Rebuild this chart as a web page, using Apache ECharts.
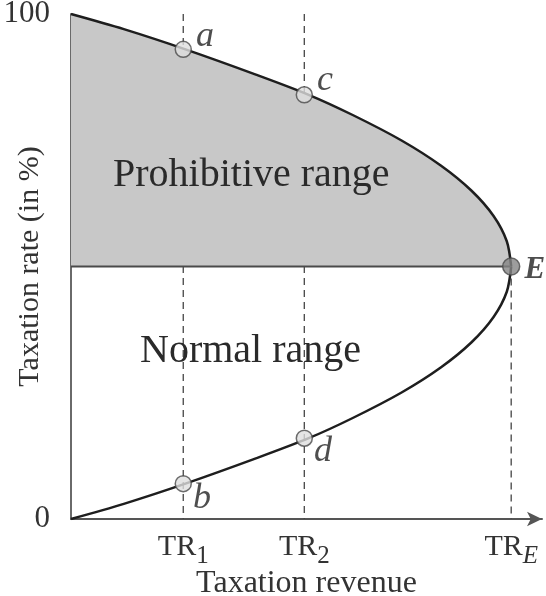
<!DOCTYPE html>
<html>
<head>
<meta charset="utf-8">
<script src="https://cdn.jsdelivr.net/npm/echarts@6/dist/echarts.min.js"></script>
<style>
html, body { margin: 0; padding: 0; background: #fff; }
#chart { width: 546px; height: 596px; }
</style>
</head>
<body>
<div id="chart"></div>
<script>
// curve: [revenue, rate], revenue scaled so that TR_E = 100
const upperCurve = [[0, 100], [12, 97], [26, 93], [42, 88], [54, 84], [64, 80], [75, 75], [84, 70], [91, 65], [96, 60], [99, 55], [100, 50]]
const lowerCurve = [[0, 0], [12, 3], [26, 7], [42, 12], [54, 16], [64, 20], [75, 25], [84, 30], [91, 35], [96, 40], [99, 45], [100, 50]]
const thresholdLine = [[0, 50], [100, 50]]

const revenueTicks = [25.5, 53, 100]
const tickMain = ['TR', 'TR', 'TR']
const tickSub = ['1', '2', 'E']

// dashed guides: x position and where they start at the top
const guideX = [25.5, 53, 100]
const guideTop = [100, 100, 50]

const pointNames = ['a', 'c', 'b', 'd', 'E']
const pointX = [25.5, 53, 25.5, 53, 100]
const pointY = [93, 84, 7, 16, 50]

const serif = "'Liberation Serif', 'DejaVu Serif', serif"

const pointLabelOffset = {
  a: [0, -13],
  c: [0, -14],
  b: [-3, 15],
  d: [-3, 13],
  E: [0, 3]
}

const chart = echarts.init(document.getElementById('chart'))

const guideSeries = guideX.map((x, i) => ({
  type: 'line',
  data: [[x, guideTop[i]], [x, 0]],
  symbol: 'none',
  silent: true,
  z: 1,
  lineStyle: { color: '#444', width: 1.3, type: [7, 5] }
}))

const pointData = pointNames.map((n, i) => {
  const isE = n === 'E'
  return {
    value: [pointX[i], pointY[i]],
    symbolSize: isE ? 17 : 16,
    itemStyle: {
      color: isE ? '#858585' : '#dedede',
      borderColor: '#4a4a4a',
      borderWidth: 1.5
    },
    label: {
      show: true,
      formatter: n,
      position: 'right',
      distance: 4,
      offset: pointLabelOffset[n],
      fontFamily: serif,
      fontStyle: 'italic',
      fontWeight: isE ? 'bold' : 'normal',
      fontSize: isE ? 31 : 36,
      color: '#222'
    }
  }
})

const option = {
  animation: false,
  backgroundColor: '#fff',
  grid: {
    left: 71,
    right: 4,
    top: 14,
    bottom: 77,
    containLabel: false,
    outerBoundsMode: 'none'
  },
  xAxis: {
    type: 'value',
    min: 0,
    max: 107,
    name: 'Taxation revenue',
    nameLocation: 'middle',
    nameGap: 49,
    nameMoveOverlap: false,
    nameTextStyle: { fontFamily: serif, fontSize: 32, color: '#333' },
    axisLine: {
      show: true,
      symbol: ['none', 'arrow'],
      symbolSize: [11, 15],
      lineStyle: { color: '#555', width: 2 }
    },
    axisTick: { show: false },
    splitLine: { show: false },
    axisLabel: {
      customValues: revenueTicks,
      margin: 7,
      color: '#333',
      fontFamily: serif,
      formatter: function (v) {
        const i = revenueTicks.indexOf(v)
        if (i < 0) return ''
        return '{m|' + tickMain[i] + '}{' + (tickSub[i] === 'E' ? 'se' : 's') + '|' + tickSub[i] + '}'
      },
      rich: {
        m: { fontFamily: serif, fontSize: 30, color: '#333' },
        s: { fontFamily: serif, fontSize: 25, color: '#333', padding: [18, 0, 0, 0] },
        se: { fontFamily: serif, fontSize: 25, fontStyle: 'italic', color: '#333', padding: [18, 0, 0, 0] }
      }
    }
  },
  yAxis: {
    type: 'value',
    min: 0,
    max: 100,
    interval: 100,
    name: 'Taxation rate (in %)',
    nameLocation: 'middle',
    nameGap: 26,
    nameMoveOverlap: false,
    nameTextStyle: { fontFamily: serif, fontSize: 30, color: '#333' },
    axisLine: { show: true, lineStyle: { color: '#6a6a6a', width: 2 } },
    axisTick: { show: false },
    splitLine: { show: false },
    axisLabel: {
      margin: 21,
      fontFamily: serif,
      fontSize: 31,
      color: '#333'
    }
  },
  series: [
    {
      name: 'prohibitive',
      type: 'line',
      data: upperCurve,
      smooth: 0.3,
      symbol: 'none',
      z: 3,
      lineStyle: { color: '#1e1e1e', width: 2.5 },
      areaStyle: { color: '#c8c8c8', opacity: 1, origin: 50 }
    },
    {
      name: 'normal',
      type: 'line',
      data: lowerCurve,
      smooth: 0.3,
      symbol: 'none',
      z: 3,
      lineStyle: { color: '#1e1e1e', width: 2.5 }
    },
    {
      name: 'threshold',
      type: 'line',
      data: thresholdLine,
      symbol: 'none',
      z: 4,
      lineStyle: { color: '#4a4a4a', width: 2 }
    },
    ...guideSeries,
    {
      type: 'scatter',
      data: pointData,
      z: 6
    }
  ],
  graphic: [
    {
      type: 'text',
      left: 113,
      top: 155,
      z: 100,
      style: { text: 'Prohibitive range', font: '40px ' + serif, fill: '#2a2a2a' }
    },
    {
      type: 'text',
      left: 140,
      top: 331,
      z: 100,
      style: { text: 'Normal range', font: '40px ' + serif, fill: '#2a2a2a' }
    }
  ]
}

chart.setOption(option)
</script>
</body>
</html>
